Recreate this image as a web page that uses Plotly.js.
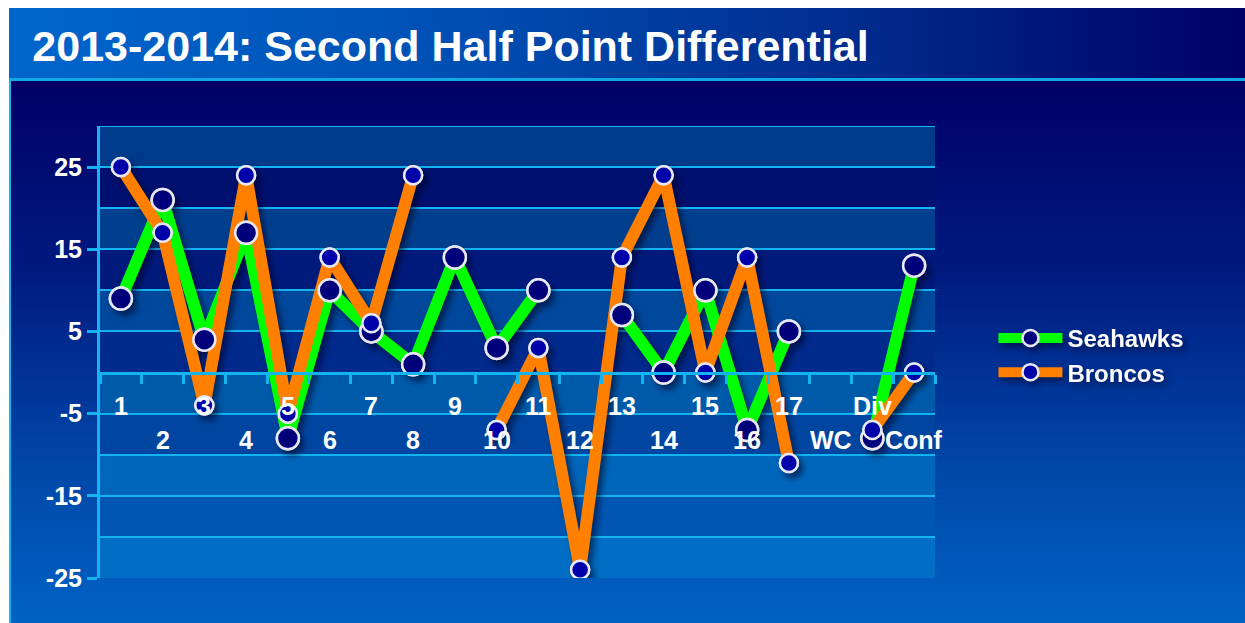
<!DOCTYPE html>
<html>
<head>
<meta charset="utf-8">
<script src="https://cdn.plot.ly/plotly-3.0.1.min.js"></script>
<style>
  html, body { margin: 0; padding: 0; background: #ffffff; }
  #wrap { position: relative; width: 1245px; height: 623px; overflow: hidden; background: #ffffff; }
  #titlebar { position: absolute; left: 9px; top: 8px; width: 1236px; height: 71px;
    background: linear-gradient(to right, #0066cc 0%, #0050b4 35%, #002a8c 70%, #000066 100%); }
  #cyanline { position: absolute; left: 9px; top: 78px; width: 1236px; height: 3px; background: #12a8e6; }
  #body { position: absolute; left: 9px; top: 81px; width: 1236px; height: 542px;
    border-left: 2px solid #14b4f0; box-sizing: border-box;
    background: linear-gradient(to bottom, #000066 0%, #001a80 35%, #0046a6 70%, #0062c4 100%); }
  #chart { position: absolute; left: 0; top: 0; width: 1245px; height: 623px; }
  #chart .scatterlayer { filter: drop-shadow(4px 5px 3px rgba(0, 0, 30, 0.55)); }
  #chart .legend .traces { filter: drop-shadow(3px 4px 3px rgba(0, 0, 30, 0.5)); }
</style>
</head>
<body>
<div id="wrap">
  <div id="titlebar"></div>
  <div id="cyanline"></div>
  <div id="body"></div>
  <div id="chart"></div>
</div>
<script>
const categories = ["1","2","3","4","5","6","7","8","9","10","11","12","13","14","15","16","17","WC","Div","Conf"];
const seahawks = [9, 21, 4, 17, -8, 10, 5, 1, 14, 3, 10, null, 7, 0, 10, -7, 5, null, -8, 13];
const broncos  = [25, 17, -4, 24, -5, 14, 6, 24, null, -7, 3, -24, 14, 24, 0, 14, -11, null, -7, 0];
const yTickVals = [-25, -15, -5, 5, 15, 25];
const yTickText = ["-25", "-15", "-5", "5", "15", "25"];
const seriesNames = ["Seahawks", "Broncos"];

const GREEN = "#00ff00", ORANGE = "#ff8000", CYAN = "#14b4f0";
const SEA_MK = "#00007a", DEN_MK = "#0000aa", MK_LINE = "#e8e8f4";
const FONT = "Liberation Sans, Arial, sans-serif";

const traces = [
  { x: categories, y: seahawks, name: seriesNames[0], type: "scatter", mode: "lines+markers",
    connectgaps: false, line: { color: GREEN, width: 12 },
    marker: { size: 22, color: SEA_MK, line: { color: MK_LINE, width: 2.5 } } },
  { x: categories, y: broncos, name: seriesNames[1], type: "scatter", mode: "lines+markers",
    connectgaps: false, line: { color: ORANGE, width: 12 },
    marker: { size: 18, color: DEN_MK, line: { color: MK_LINE, width: 2.5 } } },
  { x: categories, y: seahawks, type: "scatter", mode: "markers", showlegend: false, hoverinfo: "skip",
    marker: { size: 22, color: SEA_MK, line: { color: MK_LINE, width: 2.5 } } },
  { x: categories, y: broncos, type: "scatter", mode: "markers", showlegend: false, hoverinfo: "skip",
    marker: { size: 18, color: DEN_MK, line: { color: MK_LINE, width: 2.5 } } }
];

// alternating background bands (styling), top to bottom
const bandColors = ["#003a8a", "#00106e", "#003f8e", "#001a7c", "#00489c", "#002a8c",
                    "#005aaa", "#0046a0", "#0066ba", "#0056b2", "#006ec4"];
const shapes = bandColors.map((c, i) => ({
  type: "rect", xref: "paper", yref: "y", x0: 0, x1: 1, y0: 30 - 5 * i, y1: 25 - 5 * i,
  fillcolor: c, line: { width: 0 }, layer: "below"
}));

// category labels alternate between two rows under the zero line
const annotations = categories.map((c, i) => ({
  x: i, y: 0, xref: "x", yref: "y", text: c, showarrow: false,
  yshift: (i % 2 === 0) ? -33 : -67,
  font: { family: FONT, size: 25, color: "#ffffff", weight: "bold" }
}));

const layout = {
  width: 1245, height: 623,
  paper_bgcolor: "rgba(0,0,0,0)", plot_bgcolor: "rgba(0,0,0,0)",
  margin: { l: 100, r: 310, t: 126, b: 45 },
  title: { text: "<b>2013-2014: Second Half Point Differential</b>",
    x: 0.026, xanchor: "left", xref: "container", y: 0.927, yanchor: "middle", yref: "container",
    font: { family: FONT, size: 43, color: "#ffffff" } },
  xaxis: { type: "category", categoryorder: "array", categoryarray: categories,
    range: [-0.5, categories.length - 0.5], anchor: "free", position: 25 / 55,
    showline: true, linecolor: CYAN, linewidth: 3, showgrid: false, zeroline: false,
    ticks: "outside", tickson: "boundaries", ticklen: 9, tickwidth: 3, tickcolor: CYAN,
    showticklabels: false, fixedrange: true },
  yaxis: { range: [-25, 30], tickmode: "array", tickvals: yTickVals, ticktext: yTickText,
    showline: true, linecolor: CYAN, linewidth: 3, zeroline: false,
    ticks: "outside", ticklen: 10, tickwidth: 3, tickcolor: CYAN,
    showgrid: true, gridcolor: CYAN, gridwidth: 2,
    minor: { tick0: 0, dtick: 5, showgrid: true, gridcolor: CYAN, gridwidth: 2, ticks: "" },
    tickfont: { family: FONT, size: 25, color: "#ffffff", weight: "bold" },
    fixedrange: true },
  showlegend: true,
  legend: { x: 1.07, xanchor: "left", y: 0.58, yanchor: "top", bgcolor: "rgba(0,0,0,0)",
    font: { family: FONT, size: 24, color: "#ffffff", weight: "bold" },
    itemwidth: 64, tracegroupgap: 0 },
  shapes: shapes.concat([{ type: "line", xref: "paper", yref: "y", x0: 0, x1: 1, y0: 30, y1: 30,
    line: { color: CYAN, width: 2 }, layer: "below" }]),
  annotations: annotations
};

Plotly.newPlot("chart", traces, layout, { displayModeBar: false, staticPlot: true });
</script>
</body>
</html>
